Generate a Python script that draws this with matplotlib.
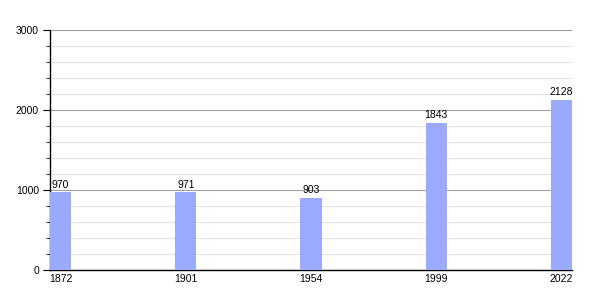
import matplotlib

matplotlib.use("Agg")
import matplotlib.pyplot as plt
from matplotlib.ticker import MultipleLocator

years = ["1872", "1901", "1954", "1999", "2022"]
population = [970, 971, 903, 1843, 2128]

BAR_COLOR = "#99aaff"
BAR_WIDTH = 0.168

plt.rcParams["font.family"] = ["Liberation Sans", "DejaVu Sans"]

fig = plt.figure(figsize=(6, 3), dpi=100)
ax = fig.add_axes([50 / 600, 0.1, 522 / 600, 0.8])

pos = list(range(len(years)))
ax.bar(pos, population, width=BAR_WIDTH, align="edge", color=BAR_COLOR, zorder=3)
for x, v in zip(pos, population):
    ax.text(x + BAR_WIDTH / 2, v + 30, str(v), ha="center", va="bottom", fontsize=7.5)

ax.set_xlim(0, len(years) - 1 + BAR_WIDTH)
ax.set_ylim(0, 3000)
ax.set_xticks([p + BAR_WIDTH / 2 for p in pos])
ax.set_xticklabels(years, fontsize=7.5)
ax.tick_params(axis="x", length=0, pad=3)

ax.yaxis.set_major_locator(MultipleLocator(1000))
ax.yaxis.set_minor_locator(MultipleLocator(200))
ax.tick_params(axis="y", which="major", length=5, labelsize=7.5, pad=3)
ax.tick_params(axis="y", which="minor", length=3)
ax.grid(axis="y", which="major", color="#a0a0a0", linewidth=0.8, zorder=0)
ax.grid(axis="y", which="minor", color="#e2e2e2", linewidth=0.8, zorder=0)

for side in ("top", "right"):
    ax.spines[side].set_visible(False)
ax.spines["left"].set_linewidth(1)
ax.spines["bottom"].set_linewidth(1)

fig.savefig("out.png", dpi=100)
